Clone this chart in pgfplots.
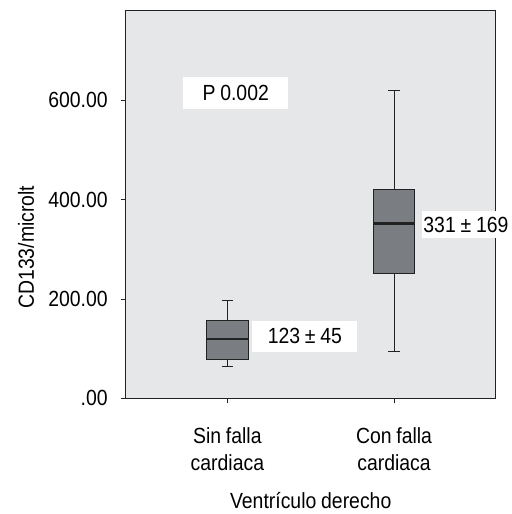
\documentclass[border=0pt]{standalone}
\usepackage{fontspec}
\setmainfont{Liberation Sans}[FakeStretch=0.886, WordSpace=0.886]
\usepackage{pgfplots}
\pgfplotsset{compat=1.18}
\definecolor{bg}{HTML}{E6E7E9}
\definecolor{boxfill}{HTML}{7A7E82}
\definecolor{ln}{HTML}{222222}
\begin{document}
\begin{tikzpicture}
\begin{axis}[
  scale only axis,
  width=370bp, height=387.6bp,
  xmin=0.39, xmax=2.61,
  ymin=0, ymax=780,
  axis background/.style={fill=bg},
  axis line style={ln, line width=0.8pt},
  font=\fontsize{22}{27}\selectfont,
  xtick={1,2},
  xticklabels={Sin falla\\cardiaca, Con falla\\cardiaca},
  xticklabel style={align=center, yshift=-21bp},
  ytick={0,200,400,600},
  yticklabels={.00,200.00,400.00,600.00},
  yticklabel style={xshift=-9.5bp},
  tick pos=left,
  tick align=outside,
  major tick length=5bp,
  tick style={ln, line width=0.8pt},
  ylabel={CD133/microlt},
  ylabel style={at={(rel axis cs:0,0.39)}, anchor=south, yshift=88bp},
  xlabel={Ventrículo derecho},
  xlabel style={at={(rel axis cs:0.5,0)}, anchor=north, yshift=-90.5bp},
  clip=false,
]
% Sin falla cardiaca: whiskers 63.5 / 197, box 78-156, median 119
\addplot[ln, line width=0.9pt] coordinates {(1,156) (1,197)};
\addplot[ln, line width=0.9pt] coordinates {(0.966,197) (1.034,197)};
\addplot[ln, line width=0.9pt] coordinates {(1,78) (1,63.5)};
\addplot[ln, line width=0.9pt] coordinates {(0.966,63.5) (1.034,63.5)};
\addplot[draw=ln, fill=boxfill, line width=0.9pt] coordinates {(0.875,78) (1.125,78) (1.125,156) (0.875,156)} -- cycle;
\addplot[ln, line width=2.2pt] coordinates {(0.875,119) (1.125,119)};
% Con falla cardiaca: whiskers 95 / 620, box 251-420.5, median 351.6
\addplot[ln, line width=0.9pt] coordinates {(2,420.5) (2,620)};
\addplot[ln, line width=0.9pt] coordinates {(1.966,620) (2.034,620)};
\addplot[ln, line width=0.9pt] coordinates {(2,251) (2,95)};
\addplot[ln, line width=0.9pt] coordinates {(1.966,95) (2.034,95)};
\addplot[draw=ln, fill=boxfill, line width=0.9pt] coordinates {(1.875,251) (2.125,251) (2.125,420.5) (1.875,420.5)} -- cycle;
\addplot[ln, line width=2.2pt] coordinates {(1.875,351.6) (2.125,351.6)};
\node[fill=white, inner sep=0pt, minimum width=104.7bp, minimum height=32.4bp] at (axis cs:1.050,614.4) {P 0.002};
\node[fill=white, inner sep=0pt, minimum width=105bp, minimum height=30.7bp] at (axis cs:1.465,124.6) {123 ± 45};
\node[fill=white, anchor=west, inner xsep=1bp, inner ysep=0pt, minimum height=27.7bp] at (axis cs:2.169,349.8) {331 ± 169\hspace{4bp}};
\end{axis}
\pgfresetboundingbox
\useasboundingbox ([xshift=-125.7bp,yshift=10.7bp]current axis.north west) rectangle ([xshift=15.3bp,yshift=-115.7bp]current axis.south east);
\end{tikzpicture}
\end{document}
